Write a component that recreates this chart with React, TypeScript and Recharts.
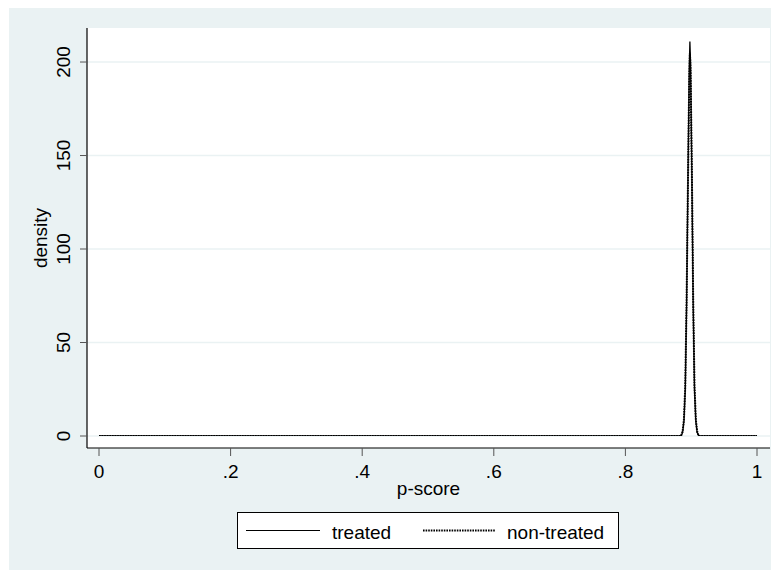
import { LineChart, Line, XAxis, YAxis, CartesianGrid } from "recharts"

// kernel density of the propensity score, evaluated on a grid
const pScore = [
  0, 0.05, 0.1, 0.15, 0.2, 0.25, 0.3, 0.35, 0.4, 0.45, 0.5, 0.55, 0.6, 0.65, 0.7, 0.75, 0.8, 0.85, 0.88,
  0.8845, 0.887, 0.889, 0.891, 0.893, 0.895, 0.897, 0.898, 0.899, 0.901, 0.903, 0.905, 0.907, 0.909, 0.9115,
  0.93, 0.95, 0.975, 1,
]
const treated = [
  0, 0, 0, 0, 0, 0, 0, 0, 0, 0, 0, 0, 0, 0, 0, 0, 0, 0, 0,
  0, 2, 8, 25, 70, 135, 195, 211, 200, 140, 70, 25, 8, 2, 0,
  0, 0, 0, 0,
]
const nonTreated = [
  0, 0, 0, 0, 0, 0, 0, 0, 0, 0, 0, 0, 0, 0, 0, 0, 0, 0, 0,
  0, 2.5, 9, 27, 72, 133, 190, 205, 196, 142, 73, 27, 9, 2.5, 0,
  0, 0, 0, 0,
]

const xTicks = [0, 0.2, 0.4, 0.6, 0.8, 1]
const yTicks = [0, 50, 100, 150, 200]

const data = pScore.map((x, i) => ({ x, treated: treated[i], nonTreated: nonTreated[i] }))

const font = "'Liberation Sans', Arial, Helvetica, sans-serif"
const bg = "#eaf2f3"
const dots = "1.6 1"

// Stata style: drop the leading zero
const fmtX = (v: number) => (v === 0 || v === 1 ? String(v) : String(v).replace(/^0/, ""))

const YTick = (props: any) => {
  const { y, payload } = props
  return (
    <text
      transform={`translate(61,${y}) rotate(-90)`}
      textAnchor="middle"
      fontSize={19}
      fontFamily={font}
      fill="#000"
    >
      {payload.value}
    </text>
  )
}

const App = () => {
  return (
    <div style={{ position: "relative", left: 1, top: -1, width: 770, height: 563, background: bg }}>
      <LineChart
        width={770}
        height={563}
        data={data}
        margin={{ top: 21, right: 9, bottom: 92, left: 0 }}
        style={{ fontFamily: font }}
      >
        <CartesianGrid vertical={false} horizontalValues={yTicks} stroke={bg} strokeWidth={1.5} fill="#fff" />
        <XAxis
          type="number"
          dataKey="x"
          domain={[0, 1]}
          ticks={xTicks}
          tickFormatter={fmtX}
          padding={{ left: 12, right: 13 }}
          height={30}
          tickSize={8}
          tickMargin={9}
          axisLine={{ stroke: "#000", strokeWidth: 1.2 }}
          tickLine={{ stroke: "#555" }}
          tick={{ fill: "#000", fontSize: 19, fontFamily: font }}
          label={{
            content: (p: any) => {
              const vb = p.viewBox
              return (
                <text x={vb.x + vb.width / 2} y={488} textAnchor="middle" fontSize={19} fontFamily={font} fill="#000">
                  p-score
                </text>
              )
            },
          }}
        />
        <YAxis
          type="number"
          domain={[0, 218.2]}
          allowDataOverflow
          ticks={yTicks}
          padding={{ top: 0, bottom: 12 }}
          width={78}
          tickSize={7}
          axisLine={{ stroke: "#000", strokeWidth: 1.2 }}
          tickLine={{ stroke: "#555" }}
          tick={<YTick />}
          label={{
            content: (p: any) => {
              const vb = p.viewBox
              const cy = vb.y + vb.height / 2
              return (
                <text
                  transform={`translate(38,${cy}) rotate(-90)`}
                  textAnchor="middle"
                  fontSize={19}
                  fontFamily={font}
                  fill="#000"
                >
                  density
                </text>
              )
            },
          }}
        />
        <Line type="linear" dataKey="treated" stroke="#000" strokeWidth={1.3} dot={false} isAnimationActive={false} />
        <Line
          type="linear"
          dataKey="nonTreated"
          stroke="#000"
          strokeWidth={2}
          strokeDasharray={dots}
          dot={false}
          isAnimationActive={false}
        />
      </LineChart>
      {/* legend box under the axis title */}
      <svg width={382} height={37} style={{ position: "absolute", left: 228, top: 505 }}>
        <rect x={0.5} y={0.5} width={381} height={36} fill="#fff" stroke="#000" strokeWidth={1} />
        <line x1={9} x2={83} y1={18.5} y2={18.5} stroke="#000" strokeWidth={1.2} />
        <text x={95} y={27} fontSize={19} fontFamily={font} fill="#000">treated</text>
        <line x1={186} x2={258} y1={18.5} y2={18.5} stroke="#000" strokeWidth={2} strokeDasharray={dots} />
        <text x={270} y={27} fontSize={19} fontFamily={font} fill="#000">non-treated</text>
      </svg>
    </div>
  )
}

export default App
